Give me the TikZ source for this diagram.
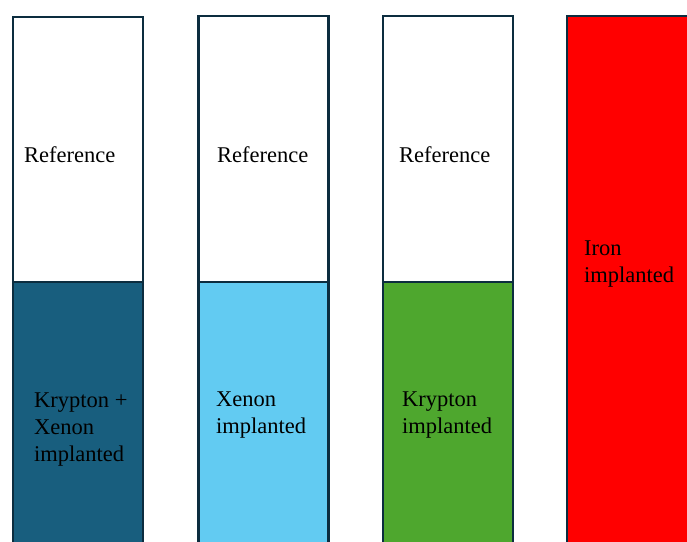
\documentclass[tikz,border=0pt]{standalone}
\usepackage{fontspec}
\setmainfont{Liberation Serif}
\definecolor{edge}{HTML}{0C2D3F}
\definecolor{kxblue}{HTML}{185E7E}
\definecolor{xeblue}{HTML}{62CBF2}
\definecolor{krgreen}{HTML}{4EA72E}
\begin{document}
\begin{tikzpicture}[x=1pt,y=-1pt,
  col/.style={draw=edge,line width=2.2pt},
  lbl/.style={anchor=base west,inner sep=0pt,align=left,font=\fontsize{22.5}{27}\selectfont,text=black}]
\useasboundingbox (0,0) rectangle (687,541);
\clip (0,0) rectangle (687,541);
% column 1
\path[col,fill=white] (13,17) rectangle (143,282);
\path[col,fill=kxblue] (13,282) rectangle (143,570);
% column 2
\path[col,fill=white] (198.5,16) rectangle (328.5,282);
\path[col,fill=xeblue] (198.5,282) rectangle (328.5,570);
% column 3
\path[col,fill=white] (383,16) rectangle (513,282);
\path[col,fill=krgreen] (383,282) rectangle (513,570);
% column 4
\path[col,fill=red] (567,16) rectangle (720,570);
% labels (base anchor = baseline of the last line)
\node[lbl] (r1) at (24,162.3) {Reference};
\node[lbl] (r2) at (217,162.3) {Reference};
\node[lbl] (r3) at (399,162.3) {Reference};
\node[lbl] (l1) at (34,461) {Krypton +\\Xenon\\implanted};
\node[lbl] (l2) at (216,433.3) {Xenon\\implanted};
\node[lbl] (l3) at (402,433.3) {Krypton\\implanted};
\node[lbl] (l4) at (584,282.7) {Iron\\implanted};
\end{tikzpicture}
\end{document}
